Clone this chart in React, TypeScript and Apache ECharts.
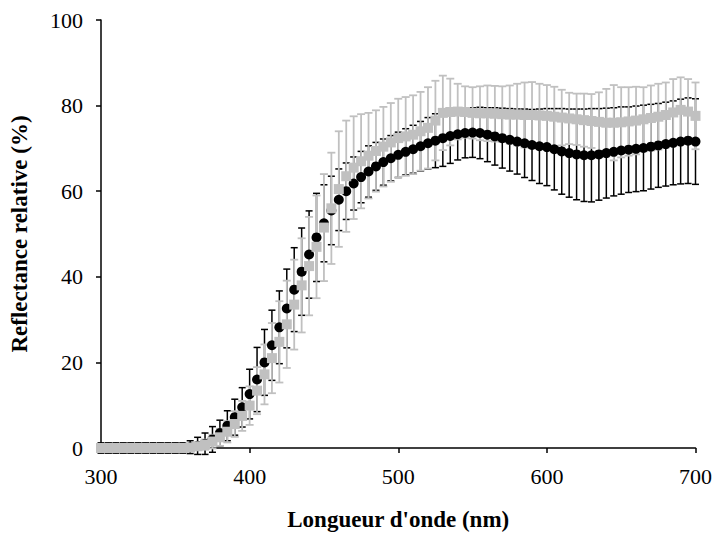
import React, { useEffect, useRef } from "react";
import * as echarts from "echarts";

const wavelengths = [
  300, 305, 310, 315, 320, 325, 330, 335, 340, 345, 350, 355,
  360, 365, 370, 375, 380, 385, 390, 395, 400, 405, 410, 415, 420, 425,
  430, 435, 440, 445, 450, 455, 460, 465, 470, 475, 480, 485, 490, 495,
  500, 505, 510, 515, 520, 525, 530, 535, 540, 545, 550, 555, 560, 565,
  570, 575, 580, 585, 590, 595, 600, 605, 610, 615, 620, 625, 630, 635,
  640, 645, 650, 655, 660, 665, 670, 675, 680, 685, 690, 695, 700,
];

const blackMean = [
  0, 0, 0, 0, 0, 0, 0, 0, 0, 0, 0, 0,
  0.2, 0.5, 1, 2, 3.5, 5.2, 7.2, 9.5, 12.6, 16, 20, 24, 28.2, 32.6,
  37, 41.2, 45.2, 49.2, 52.5, 55.5, 58, 60, 61.8, 63.3, 64.6, 65.8, 66.8, 67.7,
  68.5, 69.2, 69.8, 70.5, 71.2, 71.8, 72.4, 72.9, 73.3, 73.6, 73.7, 73.6, 73.2, 72.8,
  72.4, 72, 71.6, 71.2, 70.8, 70.5, 70.3, 69.8, 69.3, 68.9, 68.6, 68.4, 68.4, 68.6,
  68.9, 69.2, 69.5, 69.7, 69.9, 70.1, 70.4, 70.7, 71, 71.3, 71.6, 71.8, 71.6,
];

const blackSd = [
  1.2, 1.2, 1.2, 1.2, 1.2, 1.2, 1.2, 1.2, 1.2, 1.2, 1.2, 1.2,
  1.5, 2, 2.5, 3, 3, 3.5, 4.2, 4.6, 5.8, 7.5, 7.7, 8.2, 8.5, 9.2,
  9.8, 10.2, 10.2, 10.3, 9, 8, 7.2, 6.6, 6.2, 6, 6, 5.6, 5.4, 5.3,
  5.3, 5.4, 5.6, 5.8, 6, 6.3, 6.6, 6.4, 6, 5.8, 5.8, 6, 6.3, 6.7,
  7, 7.3, 7.6, 8, 8.3, 8.7, 9, 9.5, 10, 10.3, 10.6, 10.8, 10.9, 10.7,
  10.5, 10.3, 10.2, 10, 10, 10, 9.9, 9.8, 9.8, 9.8, 9.9, 10, 10,
];

const grayMean = [
  0, 0, 0, 0, 0, 0, 0, 0, 0, 0, 0, 0,
  0.1, 0.4, 0.8, 1.5, 2.5, 3.8, 5.6, 7.5, 9.9, 13.4, 17.2, 21, 24.8, 28.9,
  33.5, 38, 42.5, 47, 51.5, 56, 60.5, 63.5, 65.5, 67, 68.3, 69.4, 70.4, 71.4,
  72.4, 72.8, 73.2, 74, 74.8, 76.5, 78.3, 78.5, 78.6, 78.5, 78.3, 78.2, 78.2, 78.1,
  78, 77.9, 77.9, 77.8, 77.8, 77.7, 77.6, 77.4, 77.2, 77, 76.8, 76.6, 76.4, 76.2,
  76, 76, 76.1, 76.3, 76.5, 76.8, 77.1, 77.4, 77.8, 78.4, 79, 78.6, 77.6,
];

const graySd = [
  0.3, 0.3, 0.3, 0.3, 0.3, 0.3, 0.3, 0.3, 0.3, 0.3, 0.3, 0.3,
  0.5, 0.8, 1.2, 1.6, 2, 2.5, 3, 3.5, 4.5, 5.5, 7, 8.2, 9.5, 10.2,
  10.5, 11, 11.5, 12, 12.5, 13, 13.5, 13, 12, 11, 10, 9.5, 9.3, 9.2,
  9.2, 9.2, 9.2, 9.2, 9.5, 9.3, 8.7, 7.8, 6.5, 6, 6, 6.3, 6.5, 6.5,
  6.5, 6.8, 7.2, 7.6, 7.7, 7.4, 7.2, 7, 6.5, 6, 6, 6.2, 6.3, 6.9,
  7.9, 8.8, 8.2, 8, 7.9, 7.5, 7.6, 7.7, 7.6, 7.8, 7.6, 7.6, 7.8,
];

const xTicks = { min: 300, max: 700, interval: 100 };
const yTicks = { min: 0, max: 100, interval: 20 };

const BLACK = "#000000";
const GRAY = "#C0C0C0";
const FONT = "'Liberation Serif', 'Times New Roman', serif";

function errorData(mean: number[], sd: number[]) {
  return wavelengths.map((w, i) => [w, mean[i] - sd[i], mean[i] + sd[i]]);
}

function pointData(mean: number[]) {
  return wavelengths.map((w, i) => [w, mean[i]]);
}

function makeErrRender(color: string, lw: number, hw: number) {
  return (params: any, api: any) => {
    const x = api.value(0);
    const lo = api.value(1);
    const hi = api.value(2);
    const pLo = api.coord([x, lo]);
    const pHi = api.coord([x, hi]);
    const style = { stroke: color, lineWidth: lw };
    return {
      type: "group",
      children: [
        { type: "line", shape: { x1: pLo[0], y1: pLo[1], x2: pHi[0], y2: pHi[1] }, style },
        { type: "line", shape: { x1: pLo[0] - hw, y1: pLo[1], x2: pLo[0] + hw, y2: pLo[1] }, style },
        { type: "line", shape: { x1: pHi[0] - hw, y1: pHi[1], x2: pHi[0] + hw, y2: pHi[1] }, style },
      ],
    };
  };
}

export default function App() {
  const ref = useRef<HTMLDivElement>(null);

  useEffect(() => {
    if (!ref.current) return;
    const chart = echarts.init(ref.current, null, { renderer: "svg" });
    const axisLine = { show: true, lineStyle: { color: BLACK, width: 1.5 } };
    const axisTick = { show: true, inside: false, length: 5, lineStyle: { color: BLACK, width: 1.5 } };
    chart.setOption({
      animation: false,
      backgroundColor: "#ffffff",
      grid: { left: 101, right: 15, top: 20, bottom: 87, containLabel: false },
      xAxis: {
        type: "value",
        min: xTicks.min,
        max: xTicks.max,
        interval: xTicks.interval,
        axisLine,
        axisTick,
        splitLine: { show: false },
        axisLabel: { color: BLACK, fontFamily: FONT, fontSize: 22, margin: 17 },
        name: "Longueur d'onde (nm)",
        nameLocation: "middle",
        nameGap: 60,
        nameTextStyle: { color: BLACK, fontFamily: FONT, fontSize: 23, fontWeight: "bold" },
      },
      yAxis: {
        type: "value",
        min: yTicks.min,
        max: yTicks.max,
        interval: yTicks.interval,
        axisLine,
        axisTick,
        splitLine: { show: false },
        axisLabel: { color: BLACK, fontFamily: FONT, fontSize: 22, margin: 18 },
        name: "Reflectance relative (%)",
        nameLocation: "middle",
        nameGap: 70,
        nameTextStyle: { color: BLACK, fontFamily: FONT, fontSize: 23, fontWeight: "bold" },
      },
      series: [
        {
          type: "custom",
          name: "black-err",
          renderItem: makeErrRender(BLACK, 1.5, 3.5),
          data: errorData(blackMean, blackSd),
          encode: { x: 0, y: [1, 2] },
          silent: true,
        },
        {
          type: "custom",
          name: "gray-err",
          renderItem: makeErrRender(GRAY, 1.8, 4),
          data: errorData(grayMean, graySd),
          encode: { x: 0, y: [1, 2] },
          silent: true,
        },
        {
          type: "scatter",
          name: "black",
          data: pointData(blackMean),
          symbol: "circle",
          symbolSize: 10,
          itemStyle: { color: BLACK, opacity: 1 },
        },
        {
          type: "scatter",
          name: "gray",
          data: pointData(grayMean),
          symbol: "rect",
          symbolSize: 10,
          itemStyle: { color: GRAY, opacity: 1 },
        },
      ],
    });
    return () => chart.dispose();
  }, []);

  return (
    <div
      ref={ref}
      style={{ position: "fixed", left: 0, top: 0, width: 715, height: 536, background: "#fff" }}
    />
  );
}
